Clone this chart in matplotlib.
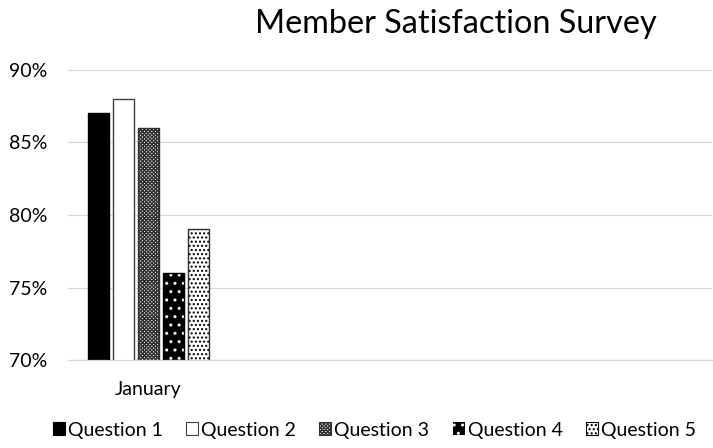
import numpy as np
import matplotlib.pyplot as plt
from matplotlib.ticker import PercentFormatter

''' Figure format '''
plt.rc('font', size=14, family=['Lato', 'DejaVu Sans'])
plt.rcParams['hatch.linewidth'] = 1.0

''' Data '''
categories = ['January', '', '', '']
series = ['Question 1', 'Question 2', 'Question 3', 'Question 4', 'Question 5']
q1 = [0.87]
q2 = [0.88]
q3 = [0.86]
q4 = [0.76]
q5 = [0.79]

''' Styles: face, hatch, hatch colour, outline '''
styles = [
    dict(facecolor='black', hatch=None, edgecolor='black', outline='black'),
    dict(facecolor='white', hatch=None, edgecolor='#404040', outline='#404040'),
    dict(facecolor='white', hatch='xxxxxxxxx', edgecolor='#303030', outline='#303030'),
    dict(facecolor='black', hatch='..', edgecolor='white', outline='black'),
    dict(facecolor='white', hatch='....', edgecolor='black', outline='#303030'),
]

fig = plt.figure(figsize=(7.13, 4.48), dpi=100)
ax = fig.add_axes([0.0954, 0.1964, 0.903, 0.6474])

x = np.arange(len(categories))
barW = 0.13
pitch = 0.155
handles = []
for i, (name, vals, st) in enumerate(zip(series, [q1, q2, q3, q4, q5], styles)):
    xs = x[:len(vals)] + (i - 2) * pitch
    ax.bar(xs, vals, width=barW, color=st['facecolor'], hatch=st['hatch'],
           edgecolor=st['edgecolor'], linewidth=0, zorder=2)
    # outline drawn separately so hatch colour can differ
    ax.bar(xs, vals, width=barW, fill=False, edgecolor=st['outline'],
           linewidth=1.0, zorder=3)
    # legend box: white-hatched one gets no border so it stays dark
    lw = 0 if st['edgecolor'] == 'white' else 0.8
    handles.append(plt.Rectangle((0, 0), 1, 1, facecolor=st['facecolor'], hatch=st['hatch'],
                                 edgecolor=st['edgecolor'], linewidth=lw, label=name))

ax.set_xlim(-0.5, len(categories) - 0.5)
ax.set_ylim(0.70, 0.90)
ax.set_yticks(np.arange(0.70, 0.901, 0.05))
ax.yaxis.set_major_formatter(PercentFormatter(1.0, decimals=0))
ax.set_xticks(x)
ax.set_xticklabels(categories)
ax.tick_params(length=0, labelsize=14, colors='black')
ax.tick_params(axis='x', pad=15)
ax.tick_params(axis='y', pad=15)
ax.grid(axis='y', color='#d9d9d9', linewidth=0.9, zorder=0)
ax.set_axisbelow(True)
for s in ['top', 'right', 'left']:
    ax.spines[s].set_visible(False)
ax.spines['bottom'].set_color('#d9d9d9')
ax.spines['bottom'].set_linewidth(0.9)

fig.text(0.639, 0.926, 'Member Satisfaction Survey', fontsize=23.3, ha='center', va='baseline')

fig.legend(handles=handles, loc='center', bbox_to_anchor=(0.525, 0.04), ncol=5,
           frameon=False, fontsize=14, handlelength=0.62, handleheight=0.62,
           handletextpad=0.15, columnspacing=1.2, borderpad=0)

fig.savefig('out.png', dpi=100)
